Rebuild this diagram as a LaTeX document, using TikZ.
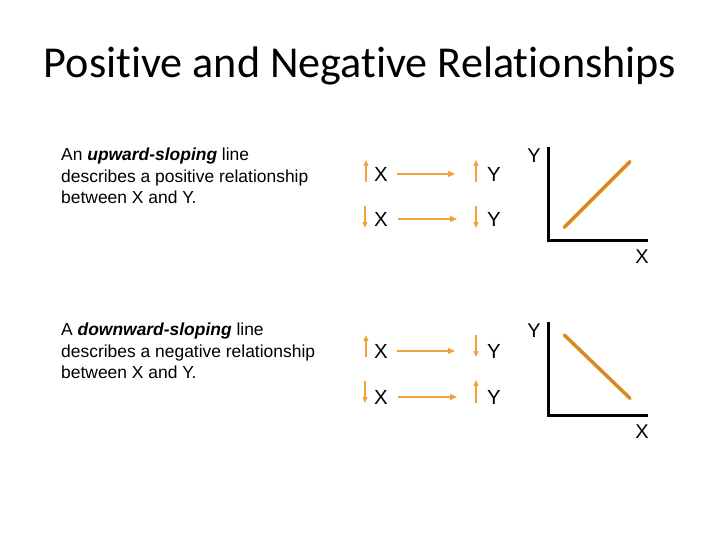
\documentclass[tikz,border=0pt]{standalone}
\usepackage{fontspec}
\setmainfont{Liberation Sans}
\newfontfamily\titlefont[Ligatures=NoCommon]{Carlito}
\usetikzlibrary{arrows.meta,positioning,calc}
\definecolor{signorange}{HTML}{F2A23A}
\definecolor{slopeorange}{HTML}{D8891F}
\tikzset{
  slidetitle/.style={font=\titlefont\fontsize{44.3}{52}\selectfont, inner sep=0pt},
  bodytext/.style={font=\fontsize{17.5}{21.5}\selectfont, align=left, anchor=north west, inner sep=0pt},
  varletter/.style={font=\fontsize{20.5}{24}\selectfont, inner sep=0pt},
  axisletter/.style={font=\fontsize{20}{24}\selectfont, inner sep=0pt},
  signarrow/.style={-{Triangle[length=6pt,width=5pt]}, signorange, line width=1.3pt},
  effectarrow/.style={-{Triangle[length=7pt,width=6pt]}, signorange, line width=1.3pt},
  axisline/.style={line width=2.7pt},
  slopeline/.style={slopeorange, line width=3.5pt, line cap=round}
}
\begin{document}
\begin{tikzpicture}[x=1bp, y=-1bp]
  \useasboundingbox[fill=white] (0,0) rectangle (720,540);

  % title
  \node[slidetitle, anchor=base] (title) at (360,77.3) {Positive and Negative Relationships};

  % descriptions
  \node[bodytext] (postext) at (61,148) {An \textbf{\textit{upward-sloping}} line\\describes a positive relationship\\between X and Y.};
  \node[bodytext] (negtext) at (61,323) {A \textbf{\textit{downward-sloping}} line\\describes a negative relationship\\between X and Y.};

  % positive: X up -> Y up, X down -> Y down
  \node[varletter] (xa) at (381,174) {X};
  \node[varletter] (ya) at (494,174) {Y};
  \node[varletter] (xb) at (381,219) {X};
  \node[varletter] (yb) at (494,219) {Y};
  \draw[effectarrow, shorten <=9bp, shorten >=32bp] (xa.east) -- (ya.west);
  \draw[effectarrow, shorten <=10bp, shorten >=30bp] (xb.east) -- (yb.west);
  \draw[signarrow] (366,182) -- (366,160);
  \draw[signarrow] (476,182) -- (476,160);
  \draw[signarrow] (365,206) -- (365,228);
  \draw[signarrow] (476,206) -- (476,228);

  % negative: X up -> Y down, X down -> Y up
  \node[varletter] (xc) at (381,351) {X};
  \node[varletter] (yc) at (494,351) {Y};
  \node[varletter] (xd) at (381,397) {X};
  \node[varletter] (yd) at (494,397) {Y};
  \draw[effectarrow, shorten <=9bp, shorten >=32bp] (xc.east) -- (yc.west);
  \draw[effectarrow, shorten <=10bp, shorten >=30bp] (xd.east) -- (yd.west);
  \draw[signarrow] (366,357) -- (366,335);
  \draw[signarrow] (476,335) -- (476,357);
  \draw[signarrow] (365,381) -- (365,403);
  \draw[signarrow] (476,403) -- (476,380);

  % upward-sloping graph
  \node[axisletter] (ylabpos) at (534,156) {Y};
  \node[axisletter] (xlabpos) at (642,257) {X};
  \draw[axisline] (548.3,147) |- (648,240.7);
  \draw[slopeline] (564.3,227.3) -- (630,161.7);

  % downward-sloping graph
  \node[axisletter] (ylabneg) at (534,331) {Y};
  \node[axisletter] (xlabneg) at (642,432) {X};
  \draw[axisline] (548.3,322) |- (648,415.7);
  \draw[slopeline] (564.3,335) -- (630,398.3);
\end{tikzpicture}
\end{document}
